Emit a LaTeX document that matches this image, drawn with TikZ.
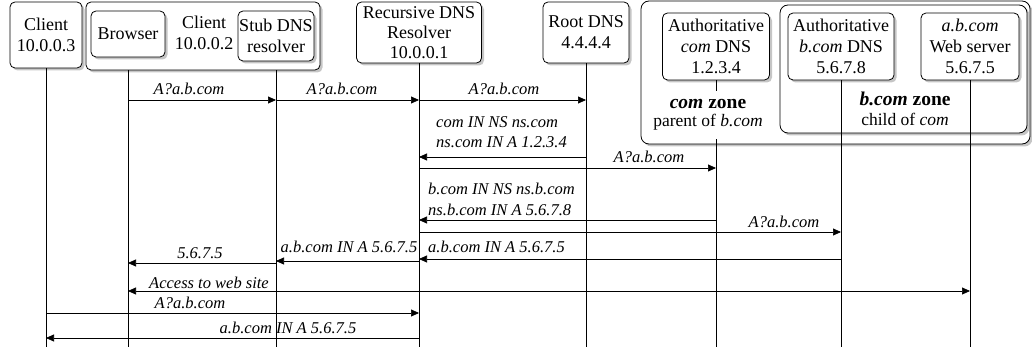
\documentclass[tikz,border=0pt]{standalone}
\usepackage{fontspec}
\setmainfont{Liberation Serif}
\usetikzlibrary{arrows.meta,shadows}
\begin{document}
\begin{tikzpicture}[x=1pt,y=-1pt,
  shad/.style={drop shadow={shadow xshift=2.5pt,shadow yshift=-2.5pt,fill=black!45}},
  ent/.style={draw,fill=white,rounded corners=5pt,line width=0.8pt,shad,align=center,inner sep=0pt,
    font=\fontsize{18}{21}\selectfont},
  zonebox/.style={draw,fill=white,rounded corners=8pt,line width=0.8pt,shad,inner sep=0pt},
  zlbl/.style={align=center,inner sep=0pt,font=\fontsize{17.5}{18.5}\selectfont},
  life/.style={line width=0.8pt},
  msg/.style={line width=0.7pt,-{Triangle[length=8pt,width=7pt]}},
  dmsg/.style={line width=0.7pt,{Triangle[length=8pt,width=7pt]}-{Triangle[length=8pt,width=7pt]}},
  lbl/.style={font=\fontsize{16.5}{20}\selectfont\itshape,inner sep=0pt,anchor=base},
  lbll/.style={lbl,anchor=base west}]
\useasboundingbox (0,0) rectangle (1032,347);

% zone boxes
\node[zonebox,minimum width=389pt,minimum height=143pt] (comzone) at (835.5,72.5) {};
\node[zonebox,minimum width=247pt,minimum height=128pt] (bzone) at (903.5,69) {};
\node[zonebox,rounded corners=5pt,minimum width=234pt,minimum height=68pt] (c2) at (203,36) {};

% entity boxes
\node[ent,minimum width=72pt,minimum height=66pt] (c3) at (46,35) {Client\\10.0.0.3};
\node[ent,minimum width=74pt,minimum height=46pt] (br) at (128,34) {Browser};
\node[ent,minimum width=76pt,minimum height=50pt] (st) at (276,36) {Stub DNS\\resolver};
\node[zlbl,font=\fontsize{18}{21}\selectfont] (c2l) at (204,33) {Client\\10.0.0.2};
\node[ent,minimum width=125pt,minimum height=61pt,font=\fontsize{18}{20}\selectfont] (rec) at (419,32.5) {Recursive DNS\\Resolver\\10.0.0.1};
\node[ent,minimum width=86pt,minimum height=61pt] (root) at (586,32.5) {Root DNS\\4.4.4.4};
\node[ent,minimum width=107pt,minimum height=67pt] (ac) at (716,46.5) {Authoritative\\\textit{com} DNS\\1.2.3.4};
\node[ent,minimum width=106pt,minimum height=67pt] (ab) at (841,46.5) {Authoritative\\\textit{b.com} DNS\\5.6.7.8};
\node[ent,minimum width=98pt,minimum height=67pt] (ws) at (970,46.5) {\textit{a.b.com}\\Web server\\5.6.7.5};

% lifelines
\coordinate (bot) at (0,347);
\draw[life] (c3.south) -- (c3 |- bot);
\draw[life] (br |- c2.south) -- (br |- bot);
\draw[life] (st |- c2.south) -- (st |- bot);
\draw[life] (rec.south) -- (rec |- bot);
\draw[life] (root.south) -- (root |- bot);
\draw[life] (ac.south) -- (ac |- bot);
\draw[life] (ab.south) -- (ab |- bot);
\draw[life] (ws.south) -- (ws |- bot);

% zone labels
\node[zlbl,fill=white,minimum height=48pt] (czl) at (708,115) {{\fontsize{19.5}{18.5}\selectfont\textbf{\textit{com} zone}}\\parent of \textit{b.com}};
\node[zlbl,font=\fontsize{17.5}{20}\selectfont] (bzl) at (905,108.5) {{\fontsize{19.5}{20}\selectfont\textbf{\textit{b.com} zone}}\\child of \textit{com}};

% message levels
\coordinate (yA) at (0,100);
\coordinate (yB) at (0,157);
\coordinate (yC) at (0,168);
\coordinate (yD) at (0,220);
\coordinate (yE) at (0,232);
\coordinate (yF) at (0,259);
\coordinate (yG) at (0,261);
\coordinate (yH) at (0,263);
\coordinate (yI) at (0,291);
\coordinate (yJ) at (0,313);
\coordinate (yK) at (0,338);

% messages
\draw[msg] (br |- yA) -- (st |- yA);
\draw[msg] (st |- yA) -- (rec |- yA);
\draw[msg] (rec |- yA) -- (root |- yA);
\draw[msg] (root |- yB) -- (rec |- yB);
\draw[msg] (rec |- yC) -- (ac |- yC);
\draw[msg] (ac |- yD) -- (rec |- yD);
\draw[msg] (rec |- yE) -- (ab |- yE);
\draw[msg] (ab |- yF) -- (rec |- yF);
\draw[msg] (rec |- yG) -- (st |- yG);
\draw[msg] (st |- yH) -- (br |- yH);
\draw[dmsg] (br |- yI) -- (ws |- yI);
\draw[msg] (c3 |- yJ) -- (rec |- yJ);
\draw[msg] (rec |- yK) -- (c3 |- yK);

% labels
\node[lbl] (l1) at (189,95) {A?a.b.com};
\node[lbl] (l2) at (342,95) {A?a.b.com};
\node[lbl] (l3) at (504,95) {A?a.b.com};
\node[lbll] (l4a) at (436,128) {com IN NS ns.com};
\node[lbll] (l4b) at (436,148) {ns.com IN A 1.2.3.4};
\node[lbl] (l5) at (649,163) {A?a.b.com};
\node[lbll] (l6a) at (428,195) {b.com IN NS ns.b.com};
\node[lbll] (l6b) at (428,215) {ns.b.com IN A 5.6.7.8};
\node[lbl] (l7) at (784,227) {A?a.b.com};
\node[lbll] (l8) at (428,252) {a.b.com IN A 5.6.7.5};
\node[lbl] (l9) at (349,252) {a.b.com IN A 5.6.7.5};
\node[lbl] (l10) at (200,258) {5.6.7.5};
\node[lbl] (l11) at (209,288) {Access to web site};
\node[lbl] (l12) at (190,308) {A?a.b.com};
\node[lbl] (l13) at (288,333) {a.b.com IN A 5.6.7.5};
\end{tikzpicture}
\end{document}
